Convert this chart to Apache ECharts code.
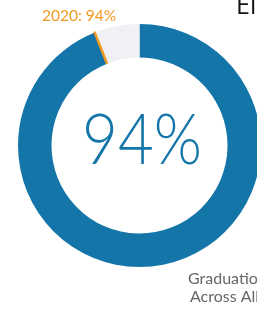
<!DOCTYPE html>
<html><head><meta charset="utf-8">
<script src="https://cdn.jsdelivr.net/npm/echarts@6/dist/echarts.min.js"></script>
<style>html,body{margin:0;padding:0;background:#fff;overflow:hidden}#c{width:257px;height:311px}</style>
</head><body><div id="c"></div>
<script>
const categories = ['2020', 'Remaining'];
const values = [94, 6];
const markerYear = '2020';
const markerValue = 94;
const centerLabel = '94%';
const titleText = 'El';
const captionLines = ['Graduation Rates', 'Across All Years'];

const chart = echarts.init(document.getElementById('c'), null, {renderer: 'canvas'});
const cx = 139.5, cy = 145.5, r0 = 88, r1 = 121.5;
const total = values.reduce((a, b) => a + b, 0);
const ang = markerValue / total * 2 * Math.PI;
const sx = cx - Math.sin(2 * Math.PI - ang) * r0, sy = cy - Math.cos(2 * Math.PI - ang) * r0;
const ex = cx - Math.sin(2 * Math.PI - ang) * (r1 + 1), ey = cy - Math.cos(2 * Math.PI - ang) * (r1 + 1);

chart.setOption({
  animation: false,
  series: [{
    type: 'pie',
    center: [cx, cy],
    radius: [r0, r1],
    startAngle: 90,
    clockwise: true,
    silent: true,
    label: {show: false},
    labelLine: {show: false},
    data: categories.map((c, i) => ({name: c, value: values[i], itemStyle: {color: i === 0 ? '#1475a8' : '#eff1f4'}}))
  }],
  graphic: [
    {type: 'line', shape: {x1: sx, y1: sy, x2: ex, y2: ey}, style: {stroke: '#f39a22', lineWidth: 2.5}, z: 10},
    {type: 'text', x: 42, y: 8, style: {text: markerYear + ': ' + markerValue + '%', fill: '#f39a22', font: '15.5px Lato, "Open Sans", sans-serif'}},
    {type: 'text', x: 142, y: 141, scaleX: 0.87, style: {text: centerLabel, fill: '#1475a8', font: '300 71px Lato, "Open Sans", sans-serif', align: 'center', verticalAlign: 'middle'}},
    {type: 'text', x: 236, y: -6, style: {text: titleText, fill: '#111', font: '25px "Open Sans", Lato, sans-serif'}},
    {type: 'text', x: 188, y: 271, style: {text: captionLines[0], fill: '#666', font: '16px Lato, "Open Sans", sans-serif'}},
    {type: 'text', x: 190, y: 289, style: {text: captionLines[1], fill: '#666', font: '16px Lato, "Open Sans", sans-serif'}}
  ]
});
</script></body></html>
